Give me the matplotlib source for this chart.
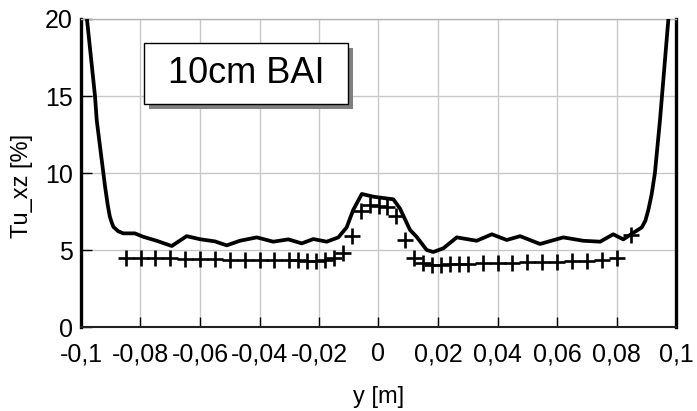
import matplotlib
matplotlib.use("Agg")
import matplotlib.pyplot as plt
from matplotlib.patches import Rectangle
from matplotlib.ticker import FuncFormatter, MultipleLocator

plt.rcParams['font.family'] = ['Liberation Sans', 'DejaVu Sans']

# simulated profile (solid line)
line_y = [-0.0990, -0.0980, -0.0953, -0.0947, -0.0919, -0.0910, -0.0903, -0.0897,
          -0.0891, -0.0875, -0.0858, -0.0819, -0.0791, -0.0746, -0.0695, -0.0645,
          -0.0600, -0.0550, -0.0510, -0.0466, -0.0409, -0.0354, -0.0303, -0.0258,
          -0.0219, -0.0174, -0.0135, -0.0107, -0.0085, -0.0056, -0.0017, 0.0050,
          0.0072, 0.0106, 0.0128, 0.0162, 0.0184, 0.0218, 0.0263, 0.0330,
          0.0381, 0.0431, 0.0476, 0.0543, 0.0621, 0.0688, 0.0745, 0.0789,
          0.0823, 0.0845, 0.0885, 0.0897, 0.0907, 0.0918, 0.0929, 0.0946,
          0.0974, 0.0985]
line_tu = [23.0, 20.0, 15.0, 13.4, 9.1, 7.9, 7.16, 6.8,
           6.5, 6.22, 6.08, 6.08, 5.86, 5.6, 5.26, 5.9,
           5.7, 5.56, 5.3, 5.6, 5.82, 5.54, 5.69, 5.43,
           5.71, 5.54, 5.82, 6.47, 7.6, 8.64, 8.46, 8.29,
           7.7, 6.3, 5.86, 5.0, 4.87, 5.11, 5.82, 5.6,
           6.02, 5.65, 5.9, 5.39, 5.82, 5.6, 5.54, 6.02,
           5.69, 5.97, 6.47, 6.9, 7.6, 8.6, 9.98, 13.4,
           19.9, 23.0]

# measurement points (+)
meas_y = [-0.085, -0.080, -0.075, -0.070, -0.065, -0.060, -0.055, -0.050, -0.045,
          -0.040, -0.035, -0.030, -0.027, -0.024, -0.021, -0.018, -0.015, -0.012,
          -0.009, -0.006, -0.003, 0.000, 0.003, 0.006, 0.009, 0.012, 0.015,
          0.018, 0.021, 0.024, 0.027, 0.030, 0.035, 0.040, 0.045, 0.050,
          0.055, 0.060, 0.065, 0.070, 0.075, 0.080, 0.085]
meas_tu = [4.46, 4.46, 4.45, 4.45, 4.43, 4.42, 4.40, 4.38, 4.36,
           4.35, 4.33, 4.32, 4.32, 4.31, 4.31, 4.33, 4.45, 4.78,
           5.9, 7.55, 7.9, 7.85, 7.8, 7.2, 5.65, 4.5, 4.15,
           4.05, 4.05, 4.1, 4.1, 4.12, 4.15, 4.17, 4.18, 4.2,
           4.22, 4.25, 4.28, 4.28, 4.32, 4.45, 5.97]

fig = plt.figure(figsize=(6.97, 4.11), dpi=100)
ax = fig.add_axes([81 / 697, 1 - 327 / 411, 595 / 697, 308 / 411])

ax.plot(line_y, line_tu, color='black', lw=2.7, zorder=3,
        solid_joinstyle='round', solid_capstyle='round')
ax.plot(meas_y, meas_tu, ls='none', marker='+', ms=12, mew=1.9, color='black', zorder=4)

ax.set_xlim(-0.1, 0.1)
ax.set_ylim(0, 20)
ax.xaxis.set_major_locator(MultipleLocator(0.02))
ax.yaxis.set_major_locator(MultipleLocator(5))

def comma(v, pos):
    s = f"{v:.2f}".rstrip('0').rstrip('.')
    if s in ('-0', '0'):
        return '0'
    return s.replace('.', ',')

ax.xaxis.set_major_formatter(FuncFormatter(comma))
ax.grid(True, color='#c8c8c8', lw=1)
ax.set_axisbelow(True)

ax.tick_params(axis='both', direction='in', labelsize=18, color='black', width=1)
ax.tick_params(axis='x', length=7, pad=11)
ax.tick_params(axis='y', length=8, pad=6)

ax.spines['top'].set_color('#b4b4b4')
ax.spines['top'].set_linewidth(1)
ax.spines['left'].set_linewidth(2.4)
ax.spines['right'].set_linewidth(2.4)
ax.spines['bottom'].set_linewidth(1.5)
ax.spines['bottom'].set_color('#222222')

ax.set_xlabel('y [m]', fontsize=17)
ax.set_ylabel('Tu_xz [%]', fontsize=17)
ax.xaxis.set_label_coords(0.5, -0.19)
ax.yaxis.set_label_coords(-0.081, 0.458)

# label box with shadow
bx, by, bw, bh = 0.1059, 0.724, 0.3429, 0.198
ax.add_patch(Rectangle((bx + 0.008, by - 0.016), bw, bh, transform=ax.transAxes,
                       facecolor='#808080', edgecolor='none', zorder=5, clip_on=False))
ax.add_patch(Rectangle((bx, by), bw, bh, transform=ax.transAxes,
                       facecolor='white', edgecolor='black', lw=1, zorder=6, clip_on=False))
ax.text(bx + bw / 2, by + bh / 2, '10cm BAI', transform=ax.transAxes,
        ha='center', va='center', fontsize=26, zorder=7)

fig.savefig('out.png', dpi=100)
